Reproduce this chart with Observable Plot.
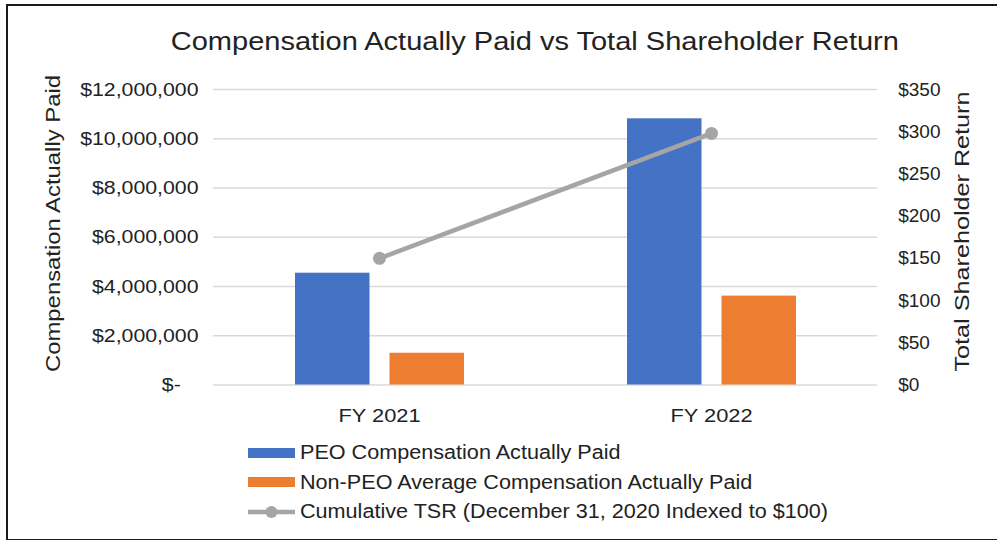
<!DOCTYPE html>
<html>
<head>
<meta charset="utf-8">
<script src="https://cdn.jsdelivr.net/npm/d3@7"></script>
<script src="https://cdn.jsdelivr.net/npm/@observablehq/plot@0.6"></script>
<style>
html, body { margin: 0; padding: 0; background: #fff; }
#wrap { position: relative; width: 997px; height: 540px; overflow: hidden; font-family: "Liberation Sans", Arial, sans-serif; color: #222; }
#frame { position: absolute; left: 6px; top: 4px; width: 1000px; height: 537px; border: 2px solid #1a1a1a; box-sizing: border-box; }
#title { position: absolute; top: 26px; left: 0; width: 1070px; text-align: center; font-size: 25px; line-height: 30px; white-space: nowrap; }
#title span { display: inline-block; transform: scaleX(1.16); }
#chart { position: absolute; left: 0; top: 60px; }
#chart svg { overflow: visible; }
#legend { position: absolute; left: 248px; top: 438px; font-size: 20px; }
.row { height: 29.5px; display: flex; align-items: center; }
.row svg { display: block; flex: none; }
.row span { display: inline-block; transform: scaleX(1.08); transform-origin: left center; margin-left: 5px; white-space: nowrap; }
</style>
</head>
<body>
<div id="wrap">
  <div id="frame"></div>
  <div id="title"><span></span></div>
  <div id="chart"></div>
  <div id="legend"></div>
</div>
<script>
const chartTitle = "Compensation Actually Paid vs Total Shareholder Return";
const years = ["FY 2021", "FY 2022"];
const peoCAP = [4540000, 10810000];
const nonPeoCAP = [1290000, 3610000];
const tsr = [150, 298];
const yTicks = [0, 2000000, 4000000, 6000000, 8000000, 10000000, 12000000];
const tsrTicks = [0, 50, 100, 150, 200, 250, 300, 350];
const leftTitle = "Compensation Actually Paid";
const rightTitle = "Total Shareholder Return";
const seriesNames = [
  "PEO Compensation Actually Paid",
  "Non-PEO Average Compensation Actually Paid",
  "Cumulative TSR (December 31, 2020 Indexed to $100)"
];
const colors = ["#4472C4", "#ED7D31", "#A5A5A5"];

const k = 12000000 / 350;
const peoData = years.map((year, i) => ({year, value: peoCAP[i]}));
const nonData = years.map((year, i) => ({year, value: nonPeoCAP[i]}));
const tsrData = years.map((year, i) => ({year, value: tsr[i]}));

document.querySelector("#title span").textContent = chartTitle;

const fmt = d3.format(",");
const chart = Plot.plot({
  width: 997,
  height: 380,
  marginTop: 29,
  marginBottom: 55.5,
  marginLeft: 213,
  marginRight: 120,
  style: {fontFamily: "'Liberation Sans', Arial, sans-serif", fontSize: "19px", color: "#222", background: "transparent"},
  x: {type: "band", domain: years, padding: 0, axis: null},
  y: {domain: [0, 12000000], axis: null},
  marks: [
    Plot.ruleY(yTicks, {stroke: "#d9d9d9", strokeWidth: 1.3}),
    Plot.barY(peoData, {x: "year", y: "value", fill: colors[0], insetLeft: 82, insetRight: 175.5}),
    Plot.barY(nonData, {x: "year", y: "value", fill: colors[1], insetLeft: 176.5, insetRight: 81}),
    Plot.line(tsrData, {x: "year", y: d => d.value * k, stroke: colors[2], strokeWidth: 4.5}),
    Plot.dot(tsrData, {x: "year", y: d => d.value * k, r: 6.5, fill: colors[2]}),
    Plot.axisY({anchor: "left", ticks: yTicks, tickSize: 0, tickPadding: 15, label: null,
      tickFormat: d => d === 0 ? "$-\u00a0\u00a0\u00a0" : "$" + fmt(d)}),
    Plot.axisY({anchor: "right", ticks: tsrTicks.map(v => v * k), tickSize: 0, tickPadding: 20.7, label: null,
      tickFormat: d => "$" + Math.round(d / k)}),
    Plot.axisX({anchor: "bottom", tickSize: 0, tickPadding: 23.5, label: null}),
    Plot.text([leftTitle], {text: d => d, frameAnchor: "left", textAnchor: "middle", dx: -160, dy: -13.75, rotate: -90, fontSize: 20.5}),
    Plot.text([rightTitle], {text: d => d, frameAnchor: "right", textAnchor: "middle", dx: 84.7, dy: -5.75, rotate: -90, fontSize: 20.5})
  ]
});
document.getElementById("chart").appendChild(chart);

function stretch(sel, factor) {
  sel.each(function() {
    const w = this.getComputedTextLength();
    this.setAttribute("textLength", w * factor);
    this.setAttribute("lengthAdjust", "spacingAndGlyphs");
  });
}
const svgSel = d3.select(chart);
svgSel.selectAll("text").filter(function() { return this.textContent === leftTitle; })
  .attr("textLength", 297).attr("lengthAdjust", "spacingAndGlyphs");
svgSel.selectAll("text").filter(function() { return this.textContent === rightTitle; })
  .attr("textLength", 280).attr("lengthAdjust", "spacingAndGlyphs");
svgSel.selectAll('g[aria-label="y-axis tick label"]').each(function() {
  if (this.getAttribute("text-anchor") === "end") stretch(d3.select(this).selectAll("text"), 1.12);
});
stretch(svgSel.selectAll('g[aria-label="x-axis tick label"] text'), 1.15);

const legend = d3.select("#legend");
seriesNames.forEach((name, i) => {
  const row = legend.append("div").attr("class", "row");
  const svg = row.append("svg").attr("width", 47).attr("height", 14);
  if (i < 2) {
    svg.append("rect").attr("x", 0).attr("y", 2).attr("width", 47).attr("height", 10).attr("fill", colors[i]);
  } else {
    svg.append("line").attr("x1", 0).attr("x2", 47).attr("y1", 7).attr("y2", 7).attr("stroke", colors[i]).attr("stroke-width", 4.5);
    svg.append("circle").attr("cx", 23.5).attr("cy", 7).attr("r", 6).attr("fill", colors[i]);
  }
  row.append("span").text(name);
});
</script>
</body>
</html>
